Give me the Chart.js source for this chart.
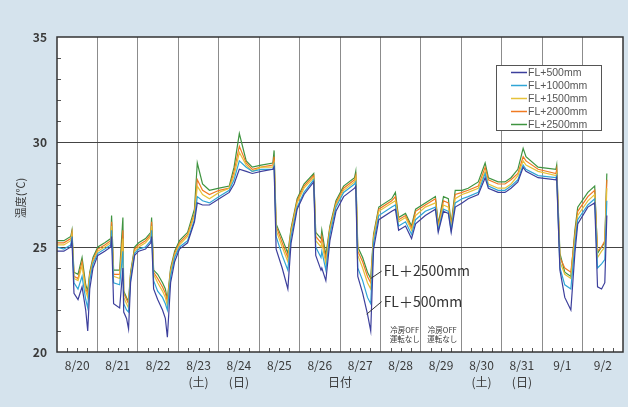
<!DOCTYPE html>
<html><head><meta charset="utf-8">
<script src="https://cdn.jsdelivr.net/npm/chart.js@4/dist/chart.umd.min.js"></script>
<style>html,body{margin:0;padding:0;background:#d5e3ed;}canvas{display:block;}</style>
</head><body>
<canvas id="c" width="628" height="407"></canvas>
<script>
// ---- data ----
const dayLabels = ['8/20','8/21','8/22','8/23','8/24','8/25','8/26','8/27','8/28','8/29','8/30','8/31','9/1','9/2'];
const weekdayNotes = ['','','','(土)','(日)','','','','','','(土)','(日)','',''];
const seriesNames = ['FL+500mm','FL+1000mm','FL+1500mm','FL+2000mm','FL+2500mm'];
const yTickValues = [20,25,30,35];
// time in days from 8/20 0:00
const timeDays = [
 0.00,0.17,0.34,0.37,0.42,0.52,0.62,0.71,0.76,0.81,0.89,
 1.01,1.18,1.33,1.35,1.40,1.55,1.63,1.65,1.72,1.77,1.82,1.92,
 2.02,2.19,2.32,2.34,2.39,2.49,2.61,2.68,2.73,2.81,2.91,
 3.03,3.23,3.40,3.47,3.60,3.77,
 4.01,4.26,4.38,4.51,4.68,4.83,
 5.05,5.34,5.37,5.42,5.57,5.71,5.79,5.94,
 6.11,6.35,6.40,6.53,6.55,6.65,6.75,6.90,
 7.09,7.36,7.39,7.44,7.56,7.68,7.76,7.83,7.96,
 8.28,8.37,8.45,8.62,8.77,8.87,
 9.11,9.36,9.43,9.56,9.68,9.75,9.85,
 10.02,10.17,10.42,10.59,10.67,10.91,
 11.08,11.23,11.40,11.53,11.60,11.90,
 12.34,12.36,12.44,12.56,12.71,12.81,12.88,
 13.13,13.30,13.37,13.47,13.55,13.60];
const fl2500 = [
 25.3,25.3,25.5,25.8,23.8,23.7,24.5,23.2,22.9,23.8,24.5,
 25.0,25.2,25.4,26.5,23.9,23.9,26.4,22.9,22.6,22.4,23.8,25.0,
 25.2,25.4,25.7,26.4,23.9,23.7,23.3,23.0,22.5,24.0,24.8,
 25.3,25.7,26.8,29.0,28.0,27.7,
 27.8,27.9,28.8,30.4,29.1,28.8,
 28.9,29.0,29.6,26.1,25.4,24.7,25.9,27.3,
 28.0,28.5,25.7,25.4,25.8,24.6,26.0,27.2,
 27.9,28.3,28.6,25.0,24.5,23.8,23.5,25.6,26.9,
 27.3,27.6,26.4,26.6,26.0,26.8,
 27.1,27.4,26.1,27.4,27.3,26.1,27.7,
 27.7,27.8,28.1,29.0,28.3,28.1,
 28.1,28.3,28.7,29.7,29.3,28.8,
 28.7,28.9,24.7,23.8,23.6,25.8,26.9,
 27.6,27.9,24.7,25.0,25.2,28.5];
const fl2000 = [
 25.2,25.2,25.4,25.7,23.6,23.5,24.3,23.0,22.8,23.7,24.4,
 24.9,25.1,25.3,26.2,23.7,23.7,25.8,22.8,22.5,22.3,23.7,24.9,
 25.1,25.3,25.6,26.2,23.8,23.5,23.1,22.8,22.4,23.9,24.7,
 25.2,25.6,26.6,28.2,27.7,27.5,
 27.7,27.8,28.6,29.8,29.0,28.7,
 28.8,28.9,29.3,26.0,25.2,24.5,25.8,27.2,
 27.9,28.4,25.5,25.2,25.5,24.4,25.9,27.1,
 27.8,28.2,28.4,24.8,24.3,23.6,23.3,25.5,26.8,
 27.2,27.4,26.3,26.5,25.9,26.7,
 27.0,27.3,26.0,27.2,27.1,26.0,27.5,
 27.6,27.7,27.9,28.8,28.2,28.0,
 28.0,28.2,28.5,29.3,29.1,28.7,
 28.5,28.7,24.5,24.0,23.8,25.6,26.7,
 27.4,27.7,24.8,25.0,25.3,28.2];
const fl1500 = [
 25.1,25.1,25.3,25.6,23.5,23.4,24.1,22.9,22.6,23.6,24.3,
 24.8,25.0,25.2,26.0,23.6,23.5,25.4,22.6,22.3,22.1,23.6,24.8,
 25.0,25.2,25.5,26.0,23.7,23.3,22.9,22.6,22.2,23.8,24.6,
 25.1,25.5,26.5,27.9,27.5,27.3,
 27.6,27.8,28.4,29.5,28.9,28.6,
 28.8,28.8,29.0,25.8,25.0,24.3,25.7,27.1,
 27.8,28.3,25.3,25.0,25.2,24.2,25.8,27.0,
 27.7,28.1,28.3,24.6,24.0,23.3,23.0,25.4,26.7,
 27.1,27.2,26.2,26.4,25.8,26.5,
 26.9,27.1,25.9,27.0,26.9,25.9,27.3,
 27.5,27.6,27.8,28.6,28.0,27.8,
 27.8,28.0,28.4,29.1,28.9,28.6,
 28.4,28.5,24.3,23.7,23.5,25.4,26.5,
 27.2,27.5,24.5,24.8,25.0,27.8];
const fl1000 = [
 25.0,24.9,25.1,25.5,23.3,23.0,23.6,22.5,22.1,23.4,24.2,
 24.7,24.9,25.1,25.8,23.3,23.2,24.8,22.3,22.0,21.9,23.5,24.7,
 24.9,25.0,25.3,25.8,23.4,22.9,22.6,22.3,22.0,23.6,24.5,
 25.0,25.3,26.3,27.4,27.2,27.1,
 27.4,27.7,28.2,29.1,28.8,28.6,
 28.7,28.7,28.9,25.5,24.6,23.9,25.5,26.9,
 27.6,28.2,25.0,24.5,24.8,23.9,25.6,26.9,
 27.6,28.0,28.1,24.0,23.4,22.6,22.3,25.2,26.5,
 26.9,27.0,26.0,26.2,25.6,26.3,
 26.7,26.9,25.8,26.8,26.7,25.8,27.1,
 27.3,27.4,27.6,28.5,27.9,27.7,
 27.7,27.9,28.2,28.9,28.7,28.4,
 28.3,28.4,24.0,23.2,23.0,25.1,26.3,
 27.0,27.3,24.0,24.2,24.4,27.2];
const fl500 = [
 24.8,24.8,25.0,25.3,22.8,22.5,23.1,22.0,21.0,23.0,24.0,
 24.6,24.8,25.0,25.5,22.3,22.1,24.0,21.9,21.6,21.1,23.3,24.6,
 24.8,24.9,25.2,25.5,23.0,22.5,22.0,21.6,20.7,23.3,24.3,
 24.9,25.2,26.2,27.1,27.0,27.0,
 27.3,27.6,28.0,28.7,28.6,28.5,
 28.6,28.7,28.8,24.9,24.0,23.0,25.2,26.8,
 27.5,28.1,24.6,23.9,24.0,23.4,25.3,26.7,
 27.4,27.8,27.9,23.6,22.8,21.8,21.0,24.9,26.3,
 26.7,26.8,25.8,26.0,25.4,26.1,
 26.5,26.8,25.7,26.7,26.6,25.7,26.9,
 27.1,27.3,27.5,28.3,27.8,27.6,
 27.6,27.8,28.1,28.8,28.6,28.3,
 28.2,28.3,23.9,22.6,22.0,24.7,26.1,
 26.9,27.1,23.1,23.0,23.3,26.5];

const seriesValues = [fl500, fl1000, fl1500, fl2000, fl2500];
const seriesColors = ['#3c3f9c','#2fa5d6','#e6c23a','#f07a22','#3f9440'];

const FONT_JP = '"Noto Sans CJK JP", "Noto Sans", sans-serif';

const bgPlugin = {
  id: 'bg',
  beforeDraw(chart) {
    const {ctx, chartArea: a} = chart;
    ctx.save();
    ctx.fillStyle = '#ffffff';
    ctx.fillRect(a.left, a.top, a.right - a.left, a.bottom - a.top);
    ctx.restore();
  }
};

const decoPlugin = {
  id: 'deco',
  afterDraw(chart) {
    const {ctx, chartArea: a, scales} = chart;
    const xs = scales.x, ys = scales.y;
    ctx.save();
    // minor ticks
    ctx.strokeStyle = '#555';
    ctx.lineWidth = 1;
    ctx.beginPath();
    for (let q = 1; q < dayLabels.length * 4; q++) {
      if (q % 4 === 0) continue;
      const px = Math.round(xs.getPixelForValue(q / 4)) + 0.5;
      ctx.moveTo(px, a.bottom); ctx.lineTo(px, a.bottom - 4);
    }
    for (let v = 21; v < 35; v++) {
      if (v % 5 === 0) continue;
      const py = Math.round(ys.getPixelForValue(v)) + 0.5;
      ctx.moveTo(a.left, py); ctx.lineTo(a.left + 4, py);
    }
    ctx.stroke();
    // frame
    ctx.strokeStyle = '#333';
    ctx.lineWidth = 1.5;
    ctx.strokeRect(a.left, a.top, a.right - a.left, a.bottom - a.top);

    // axis titles
    ctx.fillStyle = '#3a3a3a';
    ctx.font = '12px ' + FONT_JP;
    ctx.textAlign = 'center';
    ctx.textBaseline = 'middle';
    ctx.fillText('日付', (a.left + a.right) / 2, 382);
    ctx.save();
    ctx.translate(21, 198);
    ctx.rotate(-Math.PI / 2);
    ctx.font = '11px ' + FONT_JP;
    ctx.fillText('温度(℃)', 0, 0);
    ctx.restore();

    // legend
    const lx = 496, ly = 65, lw = 105, lh = 65;
    ctx.fillStyle = '#ffffff';
    ctx.fillRect(lx, ly, lw, lh);
    ctx.strokeStyle = '#555';
    ctx.lineWidth = 1;
    ctx.strokeRect(lx + 0.5, ly + 0.5, lw, lh);
    ctx.font = '10.5px "Liberation Sans", Arial, sans-serif';
    ctx.textAlign = 'left';
    chart.data.datasets.forEach((ds, i) => {
      const yy = ly + 7.5 + i * 13;
      ctx.strokeStyle = ds.borderColor;
      ctx.lineWidth = 1.5;
      ctx.beginPath(); ctx.moveTo(lx + 15, yy); ctx.lineTo(lx + 31, yy); ctx.stroke();
      ctx.fillStyle = '#555';
      ctx.fillText(ds.label, lx + 32, yy + 0.5);
    });

    // annotations
    ctx.strokeStyle = '#333';
    ctx.lineWidth = 1;
    ctx.fillStyle = '#333';
    ctx.font = '14px ' + FONT_JP;
    const P = (d, t) => [xs.getPixelForValue(d), ys.getPixelForValue(t)];
    let p1 = P(7.76, 23.5), p2 = P(8.03, 23.85);
    ctx.beginPath(); ctx.moveTo(p1[0], p1[1]); ctx.lineTo(p2[0], p2[1]); ctx.stroke();
    ctx.fillText('FL＋2500mm', p2[0] + 2, p2[1]);
    p1 = P(7.66, 21.8); p2 = P(8.03, 22.4);
    ctx.beginPath(); ctx.moveTo(p1[0], p1[1]); ctx.lineTo(p2[0], p2[1]); ctx.stroke();
    ctx.fillText('FL＋500mm', p2[0] + 2, p2[1]);
    ctx.font = '7.5px ' + FONT_JP;
    ctx.textAlign = 'center';
    [8.6, 9.53].forEach(d => {
      const [px] = P(d, 21);
      ctx.fillText('冷房OFF', px, ys.getPixelForValue(21.05));
      ctx.fillText('運転なし', px, ys.getPixelForValue(20.6));
    });
    ctx.restore();
  }
};

new Chart(document.getElementById('c'), {
  type: 'line',
  data: {
    datasets: seriesNames.map((name, i) => ({
      label: name,
      data: timeDays.map((t, k) => ({x: t, y: seriesValues[i][k]})),
      borderColor: seriesColors[i],
      borderWidth: 1.2,
      pointRadius: 0,
      tension: 0,
      fill: false
    }))
  },
  options: {
    responsive: false,
    devicePixelRatio: 1,
    animation: false,
    layout: {padding: {top: 37, right: 3, left: 0, bottom: 0}},
    plugins: {legend: {display: false}, tooltip: {enabled: false}},
    scales: {
      x: {
        type: 'linear', min: 0, max: dayLabels.length,
        afterBuildTicks: s => {
          const t = [];
          for (let i = 0; i <= dayLabels.length * 2; i++) t.push({value: i / 2});
          s.ticks = t;
        },
        afterFit: s => { s.height = 55; },
        border: {display: false},
        grid: {
          drawTicks: false,
          lineWidth: 1,
          color: c => {
            const v = c.tick.value;
            if (v % 1 !== 0 || v === 0 || v === dayLabels.length) return 'rgba(0,0,0,0)';
            return '#8c8c8c';
          }
        },
        ticks: {
          autoSkip: false, maxRotation: 0, minRotation: 0,
          padding: 5,
          color: '#3a3a3a',
          font: {family: FONT_JP, size: 12, lineHeight: 1.4},
          callback: (v) => {
            if (Math.abs(v % 1 - 0.5) > 0.01) return '';
            const i = Math.floor(v);
            return weekdayNotes[i] ? [dayLabels[i], weekdayNotes[i]] : dayLabels[i];
          }
        }
      },
      y: {
        min: 20, max: 35,
        afterBuildTicks: s => { s.ticks = yTickValues.map(v => ({value: v})); },
        afterFit: s => { s.width = 57; },
        border: {display: false},
        grid: {
          drawTicks: false,
          lineWidth: 1,
          color: c => (c.tick.value === 25 || c.tick.value === 30) ? '#444' : 'rgba(0,0,0,0)'
        },
        ticks: {
          padding: 10,
          color: '#3a3a3a',
          font: {family: FONT_JP, size: 12, weight: 'bold'}
        }
      }
    }
  },
  plugins: [bgPlugin, decoPlugin]
});
</script>
</body></html>
